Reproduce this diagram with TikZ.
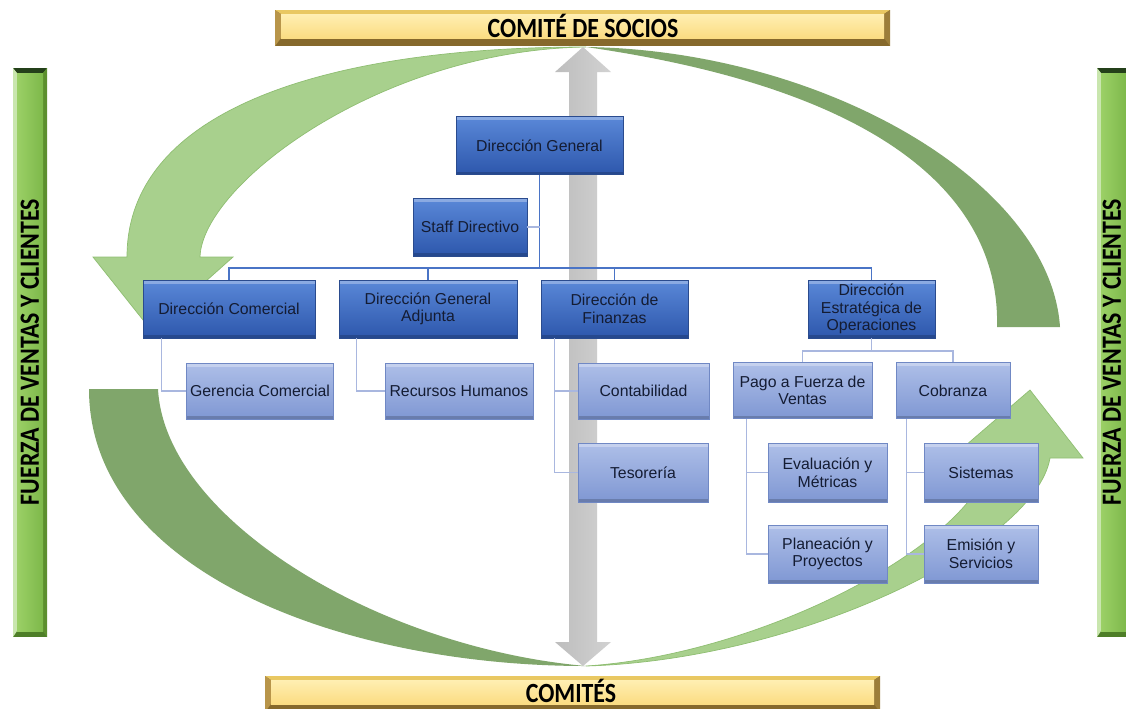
\documentclass[tikz,border=0pt]{standalone}
\usepackage{fontspec}
\setmainfont{Liberation Sans}
\newfontfamily\barfont[FakeStretch=0.86]{Carlito}

\definecolor{darkboxtop}{HTML}{5A88D8}
\definecolor{darkboxbot}{HTML}{2D57AC}
\definecolor{darkedge}{HTML}{2A4B8E}
\definecolor{lightboxtop}{HTML}{AEBFE8}
\definecolor{lightboxbot}{HTML}{7F97D3}
\definecolor{lightedge}{HTML}{7088C4}
\definecolor{boxtext}{HTML}{141C33}
\definecolor{mainline}{HTML}{4A74C6}
\definecolor{subline}{HTML}{A9B7DF}
\definecolor{leafgreen}{HTML}{A8D08D}
\definecolor{leafedge}{HTML}{8FBE72}
\definecolor{mossgreen}{HTML}{80A66B}
\definecolor{arrowgrayl}{HTML}{BDBDBD}
\definecolor{arrowgrayr}{HTML}{D2D2D2}
\definecolor{barface}{HTML}{FFEFB2}
\definecolor{barfacelow}{HTML}{FBDC82}
\definecolor{bartop}{HTML}{E9C862}
\definecolor{barleft}{HTML}{B8954A}
\definecolor{barright}{HTML}{9C7E3A}
\definecolor{barbottom}{HTML}{86692C}
\definecolor{grface}{HTML}{9BD066}
\definecolor{grfaceright}{HTML}{7DB84A}
\definecolor{grtop}{HTML}{24401A}
\definecolor{grleft}{HTML}{C9E6AE}
\definecolor{grright}{HTML}{5C8F2E}
\definecolor{grbottom}{HTML}{4E7E28}

\begin{document}
\begin{tikzpicture}[x=0.02cm, y=-0.02cm,
  bevel/.style={path picture={
    \fill[white, opacity=0.3] (path picture bounding box.north west) rectangle ([yshift=-2pt]path picture bounding box.north east);
    \fill[black, opacity=0.18] (path picture bounding box.south west) rectangle ([yshift=1.5pt]path picture bounding box.south east);}},
  headbox/.style={draw=darkedge, top color=darkboxtop, bottom color=darkboxbot, text=boxtext, bevel,
    font=\fontsize{9}{10}\selectfont, align=center, inner sep=2pt, minimum height=1.16cm},
  subbox/.style={draw=lightedge, top color=lightboxtop, bottom color=lightboxbot, text=boxtext, bevel,
    font=\fontsize{9}{10}\selectfont, align=center, inner sep=2pt, minimum height=1.12cm},
  mainlink/.style={draw=mainline, line width=0.9pt},
  sublink/.style={draw=subline, line width=0.7pt},
  bartext/.style={font=\barfont\bfseries\fontsize{15.8}{16}\selectfont, text=black,
    text height=10.2pt, text depth=0pt, inner sep=0pt}]
\clip (0,0) rectangle (1126,708);
\fill[white] (0,0) rectangle (1126,708);

% Green circular arrows
\fill[leafgreen, draw=leafedge, line width=0.4pt] (586,47) .. controls (333,47) and (127,107) .. (127,257)
  -- (93,257) -- (151,330) -- (233,257) -- (200,257) .. controls (202,185) and (380,50) .. (586,47) -- cycle;
\fill[mossgreen] (586,47) .. controls (820,50) and (1050,180) .. (1060,327)
  -- (997,327) .. controls (1000,220) and (920,95) .. (586,47) -- cycle;
\fill[mossgreen] (89,389) .. controls (89,570) and (340,666) .. (586,666)
  .. controls (380,648) and (165,520) .. (158,389) -- cycle;
\fill[leafgreen, draw=leafedge, line width=0.4pt] (586,666) .. controls (800,660) and (1035,545) .. (1050,458)
  -- (1083,458) -- (1030,390) -- (958,452) -- (993,455) .. controls (975,545) and (760,655) .. (586,666) -- cycle;

% Gray double arrow
\shade[left color=arrowgrayl, right color=arrowgrayr] (583,47) -- (611,72) -- (597,72) -- (597,642) -- (611,642)
  -- (583,666) -- (555,642) -- (569,642) -- (569,72) -- (555,72) -- cycle;

% Direccion level
\node[headbox, minimum width=3.34cm] (dg) at (539.5,145.5) {Dirección General};
\node[headbox, minimum width=2.28cm] (staff) at (470,227) {Staff Directivo};
\node[headbox, minimum width=3.44cm] (dc) at (229,309) {Dirección Comercial};
\node[headbox, minimum width=3.56cm] (dga) at (428,309) {Dirección General\\Adjunta};
\node[headbox, minimum width=2.94cm] (df) at (614.5,309) {Dirección de\\Finanzas};
\node[headbox, minimum width=2.54cm] (deo) at (871.5,309) {Dirección\\Estratégica de\\Operaciones};

% Areas
\node[subbox, minimum width=2.92cm] (gc) at (260,391) {Gerencia Comercial};
\node[subbox, minimum width=2.96cm] (rh) at (459,391) {Recursos Humanos};
\node[subbox, minimum width=2.62cm] (conta) at (643.5,391) {Contabilidad};
\node[subbox, minimum width=2.60cm, minimum height=1.18cm] (teso) at (643,472.5) {Tesorería};
\node[subbox, minimum width=2.78cm] (pfv) at (802.5,390.5) {Pago a Fuerza de\\Ventas};
\node[subbox, minimum width=2.28cm] (cob) at (953,390.5) {Cobranza};
\node[subbox, minimum width=2.38cm, minimum height=1.18cm] (eval) at (827.5,472.5) {Evaluación y\\Métricas};
\node[subbox, minimum width=2.38cm, minimum height=1.16cm] (plan) at (827.5,554) {Planeación y\\Proyectos};
\node[subbox, minimum width=2.28cm, minimum height=1.18cm] (sist) at (981,472.5) {Sistemas};
\node[subbox, minimum width=2.28cm, minimum height=1.16cm] (emis) at (981,554) {Emisión y\\Servicios};

% Lines
\coordinate (bus) at (539.5,268);
\draw[mainlink] (dg.south) -- (bus);
\draw[mainlink] (bus) -| (dc.north);
\draw[mainlink] (bus) -| (dga.north);
\draw[mainlink] (bus) -| (df.north);
\draw[mainlink] (bus) -| (deo.north);
\draw[sublink] (staff.east) -- (staff.east -| dg.south);
\draw[sublink] ([xshift=0.38cm]dc.south west) |- (gc.west);
\draw[sublink] ([xshift=0.36cm]dga.south west) |- (rh.west);
\draw[sublink] ([xshift=0.28cm]df.south west) |- (conta.west);
\draw[sublink] ([xshift=0.28cm]df.south west) |- (teso.west);
\coordinate (deobus) at (871.5,351);
\draw[sublink] (deo.south) -- (deobus);
\draw[sublink] (deobus) -| (pfv.north);
\draw[sublink] (deobus) -| (cob.north);
\draw[sublink] ([xshift=0.28cm]pfv.south west) |- (eval.west);
\draw[sublink] ([xshift=0.28cm]pfv.south west) |- (plan.west);
\draw[sublink] ([xshift=0.22cm]cob.south west) |- (sist.west);
\draw[sublink] ([xshift=0.22cm]cob.south west) |- (emis.west);

% Top bar
\fill[barbottom] (275,10) rectangle (890,46);
\fill[bartop] (275,10) -- (890,10) -- (884,14) -- (281,14) -- cycle;
\fill[barleft] (275,10) -- (281,14) -- (281,38) -- (275,46) -- cycle;
\fill[barright] (890,10) -- (884,14) -- (884,38) -- (890,46) -- cycle;
\shade[top color=barface, bottom color=barfacelow] (281,14) rectangle (884,38);
\node[bartext, anchor=base] (socios) at (583,37) {COMITÉ DE SOCIOS};

% Bottom bar
\fill[barbottom] (265,676) rectangle (880,712);
\fill[bartop] (265,676) -- (880,676) -- (874,680) -- (271,680) -- cycle;
\fill[barleft] (265,676) -- (271,680) -- (271,704) -- (265,712) -- cycle;
\fill[barright] (880,676) -- (874,680) -- (874,704) -- (880,712) -- cycle;
\shade[top color=barface, bottom color=barfacelow] (271,680) rectangle (874,704);
\node[bartext, anchor=base] (comites) at (571,702) {COMITÉS};

% Side bars
\fill[grbottom] (13,68) rectangle (47,637);
\fill[grtop] (13,68) -- (47,68) -- (43,73) -- (17,73) -- cycle;
\fill[grleft] (13,68) -- (17,73) -- (17,631) -- (13,637) -- cycle;
\fill[grright] (47,68) -- (43,73) -- (43,631) -- (47,637) -- cycle;
\shade[left color=grface, right color=grfaceright] (17,73) rectangle (43,631);
\node[bartext, rotate=90] (fuerzaizq) at (30,352) {FUERZA DE VENTAS Y CLIENTES};

\fill[grbottom] (1097,68) rectangle (1131,637);
\fill[grtop] (1097,68) -- (1131,68) -- (1127,73) -- (1101,73) -- cycle;
\fill[grleft] (1097,68) -- (1101,73) -- (1101,631) -- (1097,637) -- cycle;
\shade[left color=grface, right color=grfaceright] (1101,73) rectangle (1127,631);
\node[bartext, rotate=90] (fuerzader) at (1112,352) {FUERZA DE VENTAS Y CLIENTES};
\end{tikzpicture}
\end{document}
